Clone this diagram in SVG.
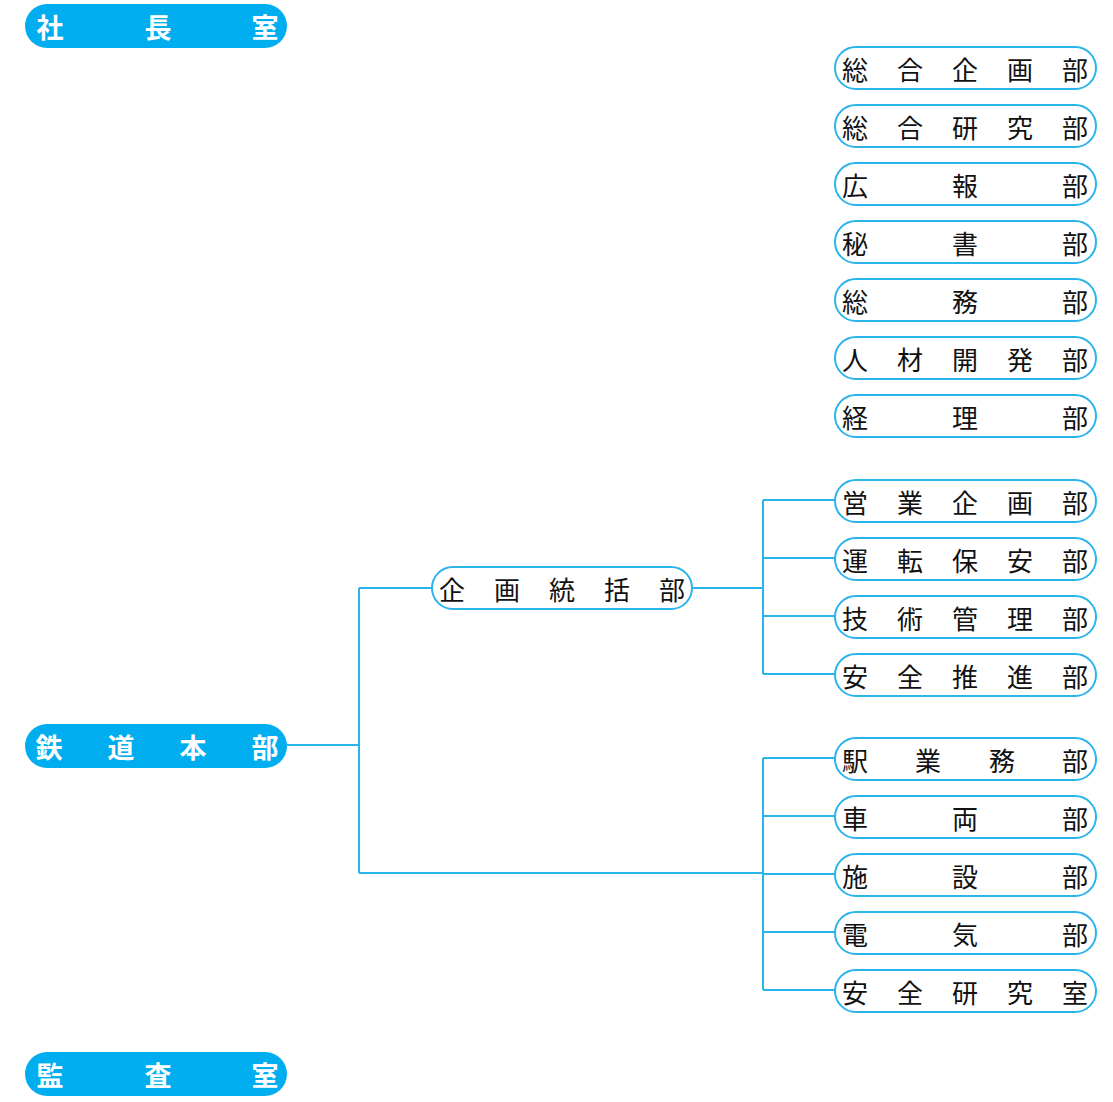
<svg xmlns="http://www.w3.org/2000/svg" width="1113" height="1102" viewBox="0 0 1113 1102">
  <style>
    .bg { fill: #ffffff; }
    .solid rect { fill: #00aeef; }
    .solid text { fill: #ffffff; font-family: "Noto Sans CJK JP", sans-serif; font-size: 27px; font-weight: bold; text-anchor: middle; dominant-baseline: central; }
    .outline rect { fill: #ffffff; stroke: #29b4ec; stroke-width: 2; }
    .outline text { fill: #111111; font-family: "Noto Sans CJK JP", sans-serif; font-size: 26px; text-anchor: middle; dominant-baseline: central; }
    .links path { fill: none; stroke: #29b4ec; stroke-width: 2; }
  </style>
  <rect class="bg" width="1113" height="1102"/>

  <!-- connectors -->
  <g id="connectors" class="links">
    <path d="M287 745 H359 M359 588 V873 M359 588 H432 M359 873 H763"/>
    <path d="M692 588 H763 M763 500 V674 M763 500 H835 M763 558 H835 M763 616 H835 M763 674 H835"/>
    <path d="M763 758 V990 M763 758 H835 M763 816 H835 M763 874 H835 M763 932 H835 M763 990 H835"/>
  </g>

  <!-- top-level offices -->
  <g id="shachoshitsu" class="solid">
    <rect x="25" y="4" width="262" height="44" rx="22"/>
    <text x="50 158 265" y="26">社長室</text>
  </g>
  <g id="tetsudohonbu" class="solid">
    <rect x="25" y="724" width="262" height="44" rx="22"/>
    <text x="49 121 193 265" y="746">鉄道本部</text>
  </g>
  <g id="kansashitsu" class="solid">
    <rect x="25" y="1052" width="262" height="44" rx="22"/>
    <text x="50 158 265" y="1074">監査室</text>
  </g>

  <!-- corporate departments -->
  <g id="sogokikakubu" class="outline">
    <rect x="835" y="47" width="261" height="42" rx="21"/>
    <text x="855 910 965 1020 1075" y="68">総合企画部</text>
  </g>
  <g id="sogokenkyubu" class="outline">
    <rect x="835" y="105" width="261" height="42" rx="21"/>
    <text x="855 910 965 1020 1075" y="126">総合研究部</text>
  </g>
  <g id="kohobu" class="outline">
    <rect x="835" y="163" width="261" height="42" rx="21"/>
    <text x="855 965 1075" y="184">広報部</text>
  </g>
  <g id="hishobu" class="outline">
    <rect x="835" y="221" width="261" height="42" rx="21"/>
    <text x="855 965 1075" y="242">秘書部</text>
  </g>
  <g id="somubu" class="outline">
    <rect x="835" y="279" width="261" height="42" rx="21"/>
    <text x="855 965 1075" y="300">総務部</text>
  </g>
  <g id="jinzaikaihatsubu" class="outline">
    <rect x="835" y="337" width="261" height="42" rx="21"/>
    <text x="855 910 965 1020 1075" y="358">人材開発部</text>
  </g>
  <g id="keiribu" class="outline">
    <rect x="835" y="395" width="261" height="42" rx="21"/>
    <text x="855 965 1075" y="416">経理部</text>
  </g>

  <!-- railway headquarters: planning -->
  <g id="kikakutokatsubu" class="outline">
    <rect x="432" y="567" width="260" height="42" rx="21"/>
    <text x="452 507 562 617 672" y="588">企画統括部</text>
  </g>
  <g id="eigyokikakubu" class="outline">
    <rect x="835" y="480" width="261" height="42" rx="21"/>
    <text x="855 910 965 1020 1075" y="501">営業企画部</text>
  </g>
  <g id="untenhoanbu" class="outline">
    <rect x="835" y="538" width="261" height="42" rx="21"/>
    <text x="855 910 965 1020 1075" y="559">運転保安部</text>
  </g>
  <g id="gijutsukanribu" class="outline">
    <rect x="835" y="596" width="261" height="42" rx="21"/>
    <text x="855 910 965 1020 1075" y="617">技術管理部</text>
  </g>
  <g id="anzensuishinbu" class="outline">
    <rect x="835" y="654" width="261" height="42" rx="21"/>
    <text x="855 910 965 1020 1075" y="675">安全推進部</text>
  </g>

  <!-- railway headquarters: operations -->
  <g id="ekigyomubu" class="outline">
    <rect x="835" y="738" width="261" height="42" rx="21"/>
    <text x="855 928 1002 1075" y="759">駅業務部</text>
  </g>
  <g id="sharyobu" class="outline">
    <rect x="835" y="796" width="261" height="42" rx="21"/>
    <text x="855 965 1075" y="817">車両部</text>
  </g>
  <g id="shisetsubu" class="outline">
    <rect x="835" y="854" width="261" height="42" rx="21"/>
    <text x="855 965 1075" y="875">施設部</text>
  </g>
  <g id="denkibu" class="outline">
    <rect x="835" y="912" width="261" height="42" rx="21"/>
    <text x="855 965 1075" y="933">電気部</text>
  </g>
  <g id="anzenkenkyushitsu" class="outline">
    <rect x="835" y="970" width="261" height="42" rx="21"/>
    <text x="855 910 965 1020 1075" y="991">安全研究室</text>
  </g>
</svg>
